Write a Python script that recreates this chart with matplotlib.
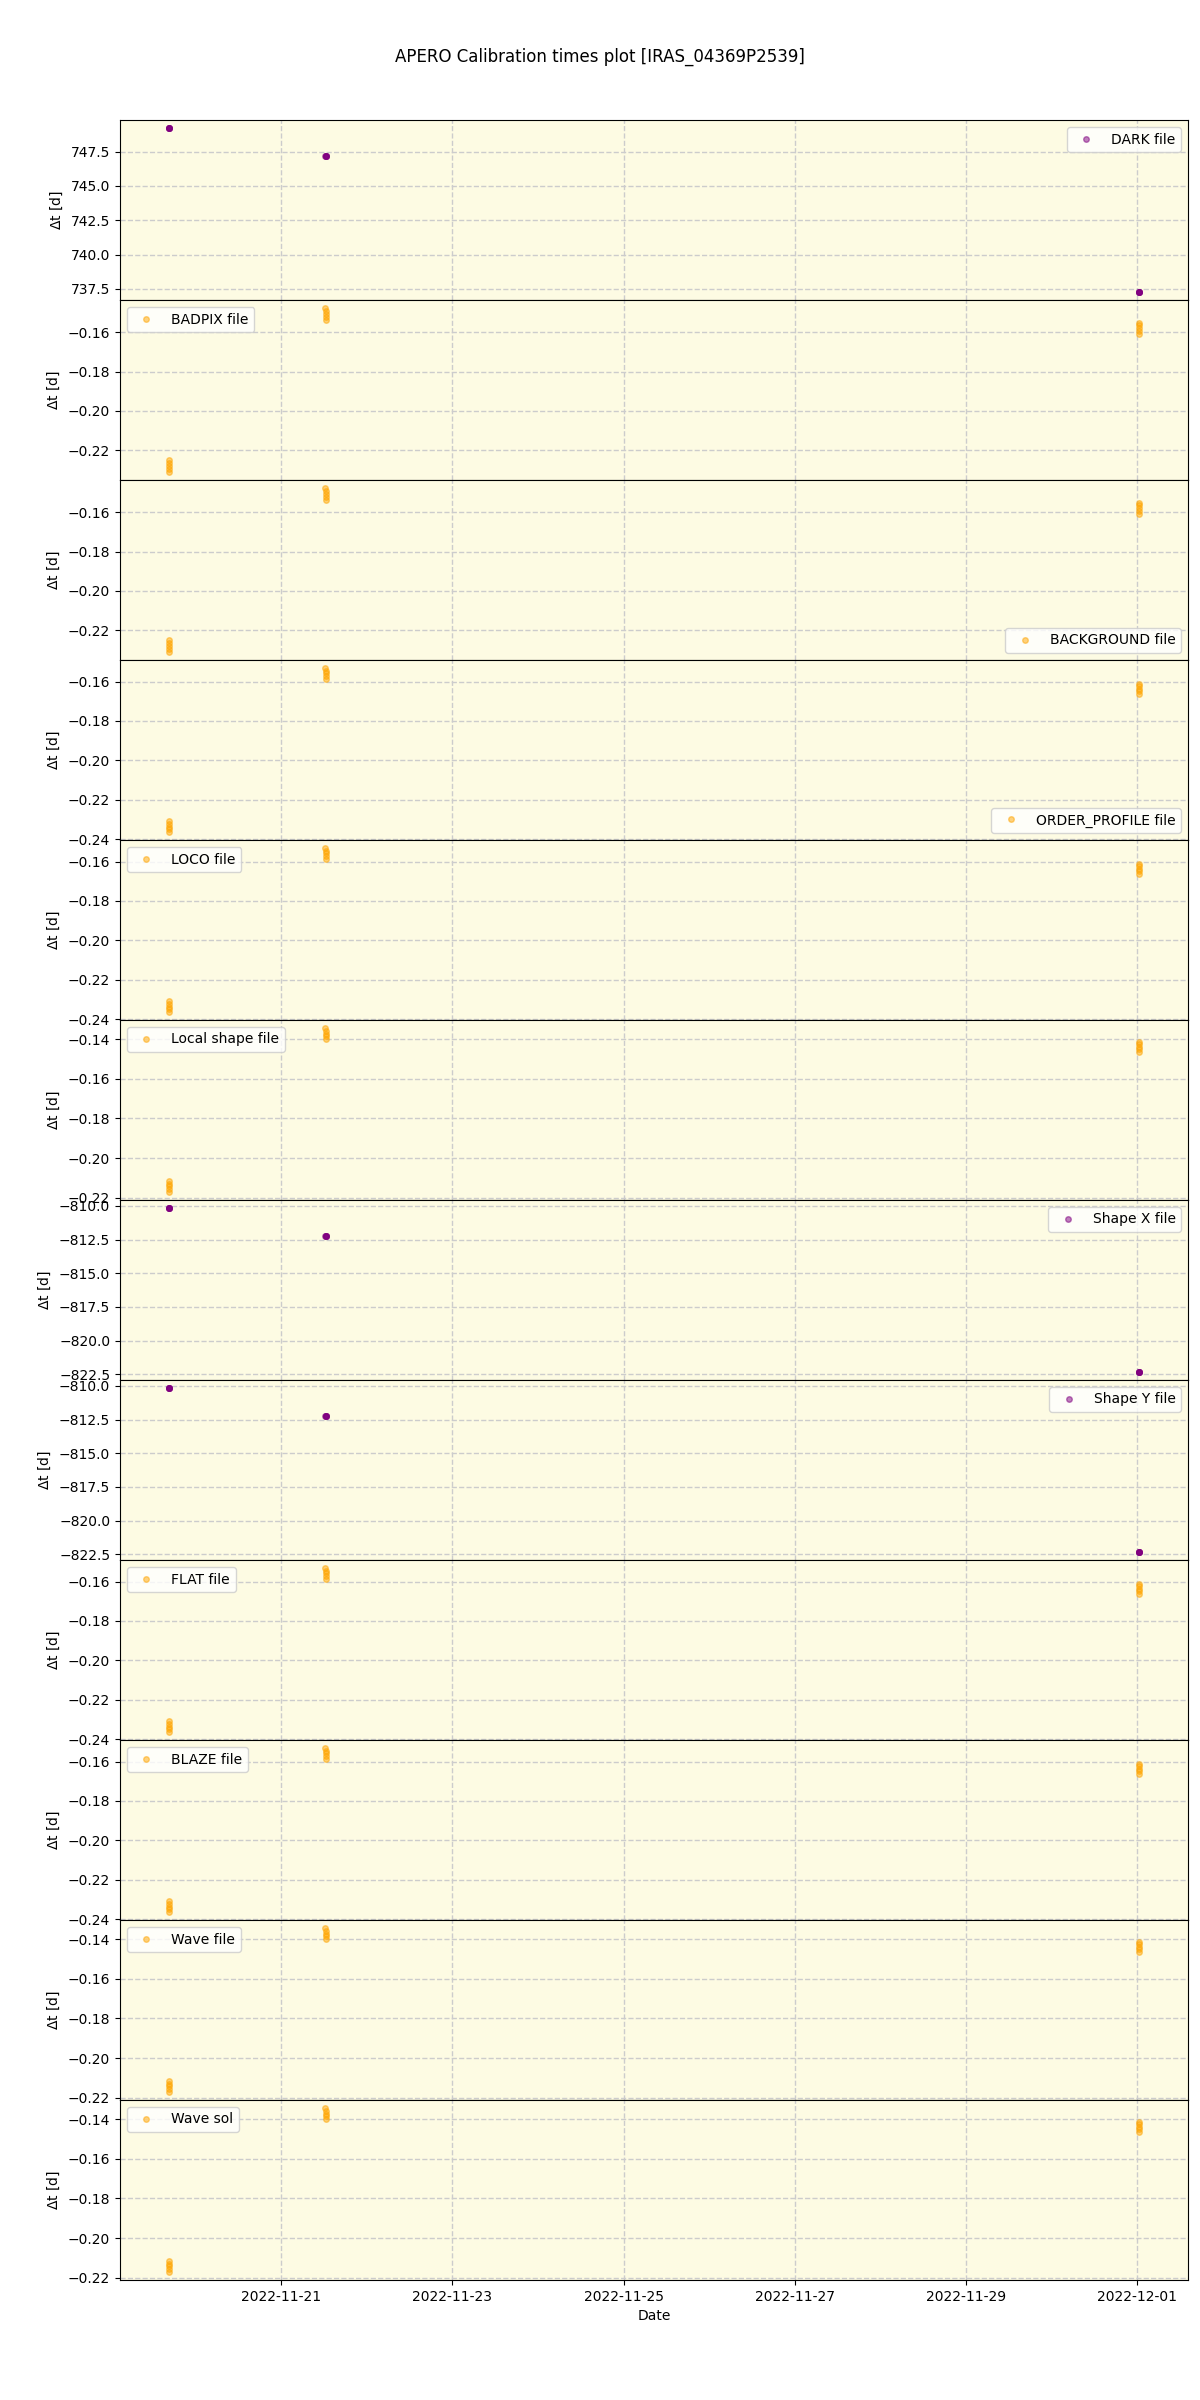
import numpy as np
import pandas as pd
import matplotlib
matplotlib.use('Agg')
import matplotlib.pyplot as plt

# observation times (5 exposures on each of 3 nights)
obs_times = pd.to_datetime([
    "2022-11-19 16:29", "2022-11-19 16:31", "2022-11-19 16:33", "2022-11-19 16:35", "2022-11-19 16:37",
    "2022-11-21 12:28", "2022-11-21 12:30", "2022-11-21 12:32", "2022-11-21 12:34", "2022-11-21 12:36",
    "2022-12-01 00:27", "2022-12-01 00:29", "2022-12-01 00:31", "2022-12-01 00:33", "2022-12-01 00:35",
])

dark_dt = [749.20, 749.20, 749.19, 749.19, 749.19,
           747.16, 747.16, 747.15, 747.15, 747.15,
           737.30, 737.30, 737.29, 737.29, 737.29]
badpix_dt = [-0.2252, -0.2267, -0.2281, -0.2296, -0.2310,
             -0.1478, -0.1492, -0.1507, -0.1521, -0.1536,
             -0.1552, -0.1566, -0.1580, -0.1594, -0.1608]
background_dt = [-0.2252, -0.2267, -0.2281, -0.2296, -0.2310,
                 -0.1478, -0.1492, -0.1507, -0.1521, -0.1536,
                 -0.1552, -0.1566, -0.1580, -0.1594, -0.1608]
order_profile_dt = [-0.2308, -0.2322, -0.2336, -0.2349, -0.2363,
                    -0.1532, -0.1546, -0.1559, -0.1573, -0.1586,
                    -0.1610, -0.1623, -0.1636, -0.1649, -0.1662]
loco_dt = [-0.2308, -0.2322, -0.2336, -0.2349, -0.2363,
           -0.1532, -0.1546, -0.1559, -0.1573, -0.1586,
           -0.1610, -0.1623, -0.1636, -0.1649, -0.1662]
local_shape_dt = [-0.2115, -0.2129, -0.2143, -0.2156, -0.2170,
                  -0.1345, -0.1358, -0.1372, -0.1385, -0.1398,
                  -0.1413, -0.1426, -0.1439, -0.1452, -0.1465]
shape_x_dt = [-810.17, -810.17, -810.18, -810.18, -810.18,
              -812.20, -812.20, -812.21, -812.21, -812.21,
              -822.30, -822.30, -822.31, -822.31, -822.31]
shape_y_dt = [-810.17, -810.17, -810.18, -810.18, -810.18,
              -812.20, -812.20, -812.21, -812.21, -812.21,
              -822.30, -822.30, -822.31, -822.31, -822.31]
flat_dt = [-0.2308, -0.2322, -0.2336, -0.2349, -0.2363,
           -0.1532, -0.1546, -0.1559, -0.1573, -0.1586,
           -0.1610, -0.1623, -0.1636, -0.1649, -0.1662]
blaze_dt = [-0.2308, -0.2322, -0.2336, -0.2349, -0.2363,
            -0.1532, -0.1546, -0.1559, -0.1573, -0.1586,
            -0.1610, -0.1623, -0.1636, -0.1649, -0.1662]
wave_file_dt = [-0.2115, -0.2129, -0.2143, -0.2156, -0.2170,
                -0.1345, -0.1358, -0.1372, -0.1385, -0.1398,
                -0.1413, -0.1426, -0.1439, -0.1452, -0.1465]
wave_sol_dt = [-0.2115, -0.2129, -0.2143, -0.2156, -0.2170,
               -0.1345, -0.1358, -0.1372, -0.1385, -0.1398,
               -0.1413, -0.1426, -0.1439, -0.1452, -0.1465]

labels = ["DARK file", "BADPIX file", "BACKGROUND file", "ORDER_PROFILE file",
          "LOCO file", "Local shape file", "Shape X file", "Shape Y file",
          "FLAT file", "BLAZE file", "Wave file", "Wave sol"]
series = [dark_dt, badpix_dt, background_dt, order_profile_dt, loco_dt,
          local_shape_dt, shape_x_dt, shape_y_dt, flat_dt, blaze_dt,
          wave_file_dt, wave_sol_dt]
colors = ["purple", "orange", "orange", "orange", "orange", "orange",
          "purple", "purple", "orange", "orange", "orange", "orange"]
legend_locs = ["upper right", "upper left", "lower right", "lower right",
               "upper left", "upper left", "upper right", "upper right",
               "upper left", "upper left", "upper left", "upper left"]

fig, axes = plt.subplots(12, 1, figsize=(12, 24), sharex=True)
fig.subplots_adjust(left=0.1, right=0.99, top=0.95, bottom=0.05, hspace=0)

for ax, lab, y, c, loc in zip(axes, labels, series, colors, legend_locs):
    ax.plot(obs_times, y, ls='None', marker='o', ms=4, color=c, alpha=0.5, label=lab)
    ax.set_facecolor('#fdfbe3')
    ax.grid(True, ls='--', color='#cccccc', lw=1)
    ax.set_ylabel(r'$\Delta$t [d]')
    ax.legend(loc=loc)

axes[-1].set_xlabel('Date')
fig.suptitle('APERO Calibration times plot [IRAS_04369P2539]')

fig.savefig('out.png', dpi=100)
